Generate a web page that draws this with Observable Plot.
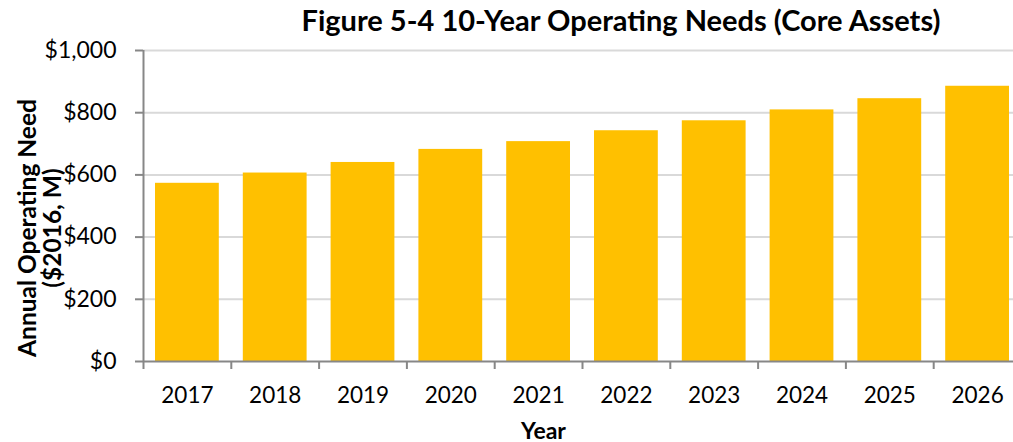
<!DOCTYPE html>
<html>
<head>
<meta charset="utf-8">
<script src="https://cdn.jsdelivr.net/npm/d3@7"></script>
<script src="https://cdn.jsdelivr.net/npm/@observablehq/plot@0.6"></script>
<style>
  html, body { margin: 0; padding: 0; background: #fff; overflow: hidden; }
  #wrap { width: 1013px; }
  #title { position: relative; height: 35px; width: 1013px; }
  #title span {
    position: absolute; left: 621px; top: 5px; transform: translateX(-50%);
    font-family: Lato, sans-serif; font-weight: bold; font-size: 29px; line-height: 29px;
    white-space: nowrap; color: #000;
  }
</style>
</head>
<body>
<div id="wrap">
  <div id="title"><span>Figure 5-4 10-Year Operating Needs (Core Assets)</span></div>
  <div id="chart"></div>
</div>
<script>
const years = ["2017", "2018", "2019", "2020", "2021", "2022", "2023", "2024", "2025", "2026"];
const needs = [573, 606, 640, 682, 707, 742, 774, 809, 845, 885];
const yTicks = [0, 200, 400, 600, 800, 1000];
const yLabel = "Annual Operating Need\n($2016, M)";
const xLabel = "Year";

const data = years.map((y, i) => ({year: y, i, value: needs[i]}));
const boundaries = d3.range(0, years.length + 1);
const centers = years.map((_, i) => i + 0.5);

const fontFamily = "Lato, sans-serif";
const axisGray = "#878787";
const gridGray = "#d9d9d9";

const chart = Plot.plot({
  width: 1013,
  height: 407,
  marginTop: 15,
  marginBottom: 81,
  marginLeft: 143,
  marginRight: -8,
  style: {fontFamily, fontSize: "22px", color: "#000", background: "#fff"},
  x: {type: "linear", domain: [0, years.length]},
  y: {domain: [0, 1000]},
  marks: [
    Plot.ruleY(yTicks.filter(d => d > 0), {stroke: gridGray, strokeWidth: 2}),
    Plot.rectY(data, {x1: "i", x2: d => d.i + 1, y: "value", fill: "#FFC000", insetLeft: 12, insetRight: 12}),
    Plot.ruleX([0], {y1: 0, y2: 1000, stroke: axisGray, strokeWidth: 2}),
    Plot.ruleY([0], {stroke: axisGray, strokeWidth: 2}),
    Plot.axisY({ticks: yTicks, tickSize: 8, tickPadding: 19, stroke: axisGray, strokeWidth: 2,
      tickFormat: d => "$" + d3.format(",")(d), fontSize: 23, label: null}),
    Plot.axisX({ticks: boundaries, tickSize: 8, stroke: axisGray, strokeWidth: 2, tickFormat: () => "", label: null}),
    Plot.axisX({ticks: centers, tickSize: 0, tickPadding: 26, tickFormat: d => years[Math.floor(d)], fontSize: 22.5, label: null}),
    Plot.text([yLabel], {frameAnchor: "left", dx: -103, dy: 22, rotate: -90, fontWeight: "bold", fontSize: 24.5, lineHeight: 1.0, textAnchor: "middle"}),
    Plot.text([xLabel], {frameAnchor: "bottom", dx: -39, dy: 77, fontWeight: "bold", fontSize: 23, textAnchor: "middle"})
  ]
});
document.getElementById("chart").appendChild(chart);
</script>
</body>
</html>
